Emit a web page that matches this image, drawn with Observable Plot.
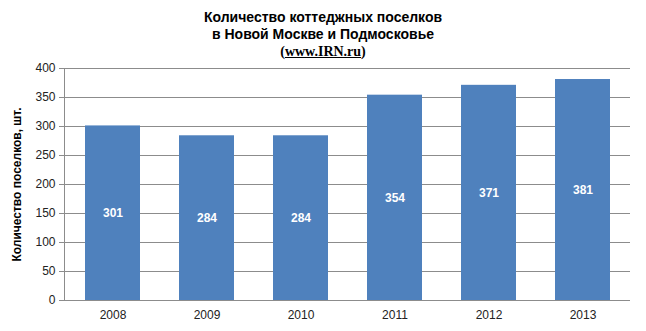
<!DOCTYPE html>
<html><head><meta charset="utf-8">
<script src="https://cdn.jsdelivr.net/npm/d3@7"></script>
<script src="https://cdn.jsdelivr.net/npm/@observablehq/plot@0.6"></script>
<style>
body{margin:0;background:#fff;width:646px;overflow:hidden;}
#title{height:60px;box-sizing:border-box;padding-top:9px;text-align:center;font-family:"Liberation Sans",Arial,sans-serif;font-weight:bold;font-size:14px;line-height:17px;color:#000;}
#title .src{font-family:"Liberation Serif","Times New Roman",serif;}
#title .src u{text-decoration:underline;}
</style></head>
<body>
<div id="title">Количество коттеджных поселков<br>в Новой Москве и Подмосковье<br><span class="src">(<u>www.IRN.ru</u>)</span></div>
<div id="chart"></div>
<script>
const years = ["2008","2009","2010","2011","2012","2013"];
const values = [301, 284, 284, 354, 371, 381];
const yTicks = [0,50,100,150,200,250,300,350,400];
const yLabel = "Количество поселков, шт.";

const data = years.map((y,i)=>({year:y, value:values[i]}));
const gray = "#8c8c8c";

const plot = Plot.plot({
  width:646, height:271,
  marginTop:8, marginBottom:31, marginLeft:64, marginRight:16,
  style:{fontFamily:"'Liberation Sans', Arial, sans-serif", fontSize:"12px", color:"#222", background:"#fff"},
  x:{domain:years, paddingInner:0.42, paddingOuter:0.21, label:null},
  y:{domain:[0,400], ticks:yTicks, label:null},
  marks:[
    Plot.gridY(yTicks, {stroke:gray, strokeOpacity:1}),
    Plot.barY(data, {x:"year", y:"value", fill:"#4F81BD"}),
    Plot.text(data, {x:"year", y:d=>d.value/2, text:d=>String(d.value), fill:"white", fontWeight:"bold", fontSize:12}),
    Plot.ruleY([0], {stroke:gray}),
    Plot.frame({anchor:"left", stroke:gray}),
    Plot.axisY(yTicks, {tickSize:5, tickPadding:4, stroke:gray, fill:"#222", fontSize:12, label:null}),
    Plot.axisX({tickSize:0, tickPadding:10, fill:"#222", fontSize:12, label:null}),
    Plot.text([yLabel], {frameAnchor:"left", textAnchor:"middle", rotate:-90, dx:-47, text:d=>d, fontWeight:"bold", fontSize:12, fill:"#000"})
  ]
});
document.getElementById("chart").appendChild(plot);
</script>
</body></html>
